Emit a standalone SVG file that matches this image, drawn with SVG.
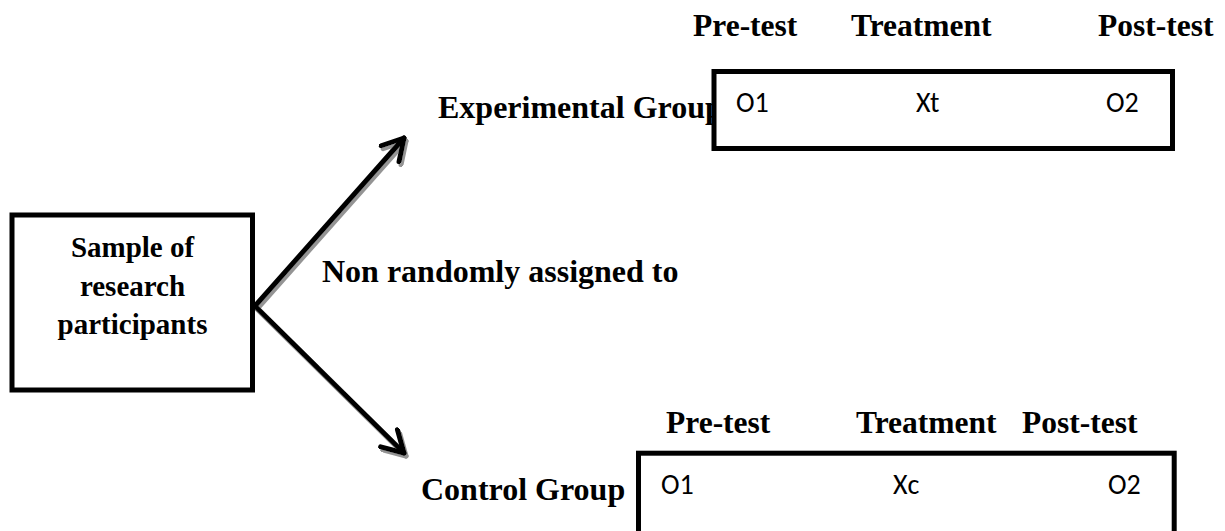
<svg xmlns="http://www.w3.org/2000/svg" width="1225" height="531" viewBox="0 0 1225 531">
<style>
.serif{font-family:"Liberation Serif","Times New Roman",serif;font-weight:bold;fill:#000}
.big{font-size:32px}
.hdr{font-size:31.5px}
.node{font-size:29px}
.cal{font-family:Carlito,"Open Sans","Liberation Sans",sans-serif;font-size:28px;fill:#000}
.box{fill:#fff;stroke:#000;stroke-width:5}
.conn{fill:none;stroke:#000;stroke-width:5;stroke-linecap:round;stroke-linejoin:round}
</style>
<defs>
<filter id="shadow" x="-20%" y="-20%" width="140%" height="140%">
<feDropShadow dx="2" dy="3" stdDeviation="0.6" flood-color="#888" flood-opacity="0.9"/>
</filter>
<marker id="chev" viewBox="-26 -14 30 28" refX="0" refY="0" markerWidth="30" markerHeight="28" markerUnits="userSpaceOnUse" orient="auto">
<path d="M -21,-12 L 0,0 L -21,12" fill="none" stroke="#000" stroke-width="5" stroke-linecap="round" stroke-linejoin="round"/>
</marker>
</defs>
<rect width="1225" height="531" fill="#fff"/>

<g id="connectors" filter="url(#shadow)">
<line class="conn" x1="255" y1="306" x2="404" y2="138" marker-end="url(#chev)"/>
<line class="conn" x1="255" y1="306" x2="404" y2="453" marker-end="url(#chev)"/>
</g>

<g id="sample">
<rect class="box" x="12" y="215" width="240.5" height="175"/>
<text class="serif node" x="132.5" y="257" text-anchor="middle">Sample of</text>
<text class="serif node" x="132.5" y="295.5" text-anchor="middle">research</text>
<text class="serif node" x="132.5" y="333.5" text-anchor="middle">participants</text>
</g>

<g id="assign-label">
<text class="serif big" x="322" y="282">Non randomly assigned to</text>
</g>

<g id="experimental">
<text class="serif hdr" x="693" y="36">Pre-test</text>
<text class="serif hdr" x="851" y="36">Treatment</text>
<text class="serif hdr" x="1098" y="36">Post-test</text>
<text class="serif big" x="438" y="118">Experimental Group</text>
<rect class="box" x="714" y="71.5" width="458.5" height="77"/>
<text class="cal" x="736" y="112">O1</text>
<text class="cal" x="916" y="112">Xt</text>
<text class="cal" x="1106" y="112">O2</text>
</g>

<g id="control">
<text class="serif hdr" x="666" y="433">Pre-test</text>
<text class="serif hdr" x="856" y="433">Treatment</text>
<text class="serif hdr" x="1022" y="433">Post-test</text>
<text class="serif big" x="421" y="500">Control Group</text>
<rect class="box" x="638.5" y="453.2" width="535.7" height="100"/>
<text class="cal" x="661" y="494">O1</text>
<text class="cal" x="893" y="494">Xc</text>
<text class="cal" x="1108" y="494">O2</text>
</g>
</svg>
